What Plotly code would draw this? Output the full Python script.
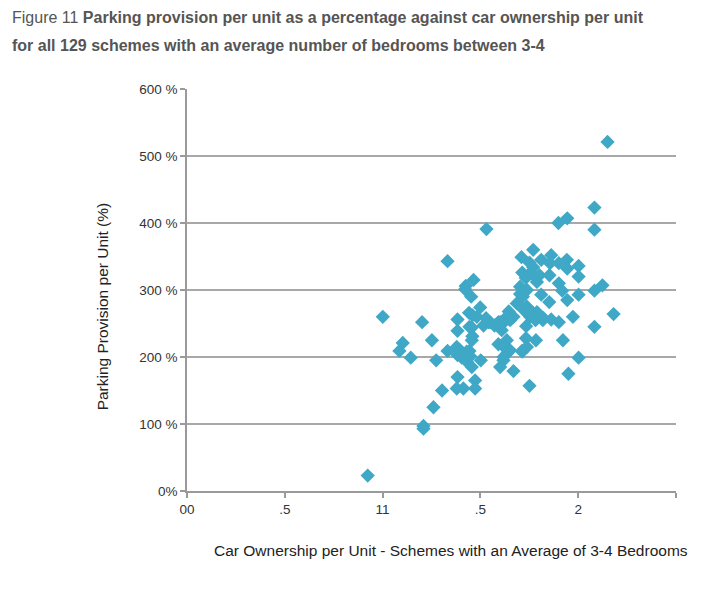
import plotly.graph_objects as go

car_ownership = [
    2.150, 2.083, 2.083, 1.899, 1.944, 1.531, 1.332, 1.770, 1.710, 1.751,
    1.811, 1.862, 1.901, 1.942, 1.944, 2.002, 2.002, 1.714, 1.754, 1.780,
    1.802, 1.789, 1.853, 1.465, 1.425, 1.422, 1.453, 1.703, 1.738, 1.703,
    1.717, 1.686, 1.901, 1.918, 1.811, 1.852, 1.944, 2.002, 2.083, 2.124,
    2.181, 2.083, 2.002, 1.950, 1.973, 1.922, 1.901, 1.862, 1.819, 1.768,
    1.738, 1.754, 1.782, 1.789, 1.734, 1.784, 1.733, 1.738, 1.714, 1.751,
    1.669, 1.669, 1.645, 1.635, 1.610, 1.592, 1.572, 1.541, 1.516, 1.499,
    1.482, 1.442, 1.444, 1.456, 1.383, 1.383, 1.459, 1.456, 1.592, 1.635,
    1.621, 1.652, 1.635, 1.618, 1.601, 1.712, 1.502, 1.444, 1.422, 1.396,
    1.379, 1.383, 1.405, 1.431, 1.456, 1.332, 1.274, 1.252, 1.202, 1.001,
    1.103, 1.086, 1.144, 1.383, 1.473, 1.473, 1.413, 1.379, 1.304, 1.209,
    1.209, 1.260, 0.924, 1.609, 1.549, 1.430, 1.448, 1.618, 1.823, 1.738,
    1.754, 1.722, 1.601, 1.652, 1.529, 1.460, 1.770, 1.732, 1.856,
]
parking_pct = [
    521, 423, 390, 400, 407, 391, 343, 360, 349, 341,
    345, 352, 340, 345, 332, 336, 320, 326, 325, 320,
    322, 312, 322, 315, 306, 301, 290, 305, 300, 294,
    290, 280, 310, 299, 293, 282, 285, 293, 299, 307,
    264, 245, 199, 175, 260, 225, 252, 256, 255, 266,
    275, 260, 255, 267, 246, 225, 228, 215, 208, 157,
    179, 260, 268, 260, 249, 252, 247, 252, 247, 274,
    260, 266, 245, 244, 256, 239, 231, 225, 219, 225,
    215, 210, 205, 195, 185, 209, 195, 209, 203, 210,
    215, 203, 199, 193, 185, 209, 195, 225, 252, 260,
    221, 209, 199, 170, 165, 153, 153, 153, 150, 97,
    93, 125, 23, 240, 252, 208, 201, 200, 258, 272,
    265, 270, 252, 255, 258, 262, 334, 318, 340,
]

x_tickvals = [0, 0.5, 1, 1.5, 2, 2.5]
x_ticktext = ["00", ".5", "11", ".5", "2", ""]
y_tickvals = [0, 100, 200, 300, 400, 500, 600]
y_ticktext = ["0%", "100 %", "200 %", "300 %", "400 %", "500 %", "600 %"]

title_line1 = "Figure 11 <b>Parking provision per unit as a percentage against car ownership per unit</b>"
title_line2 = "<b>for all 129 schemes with an average number of bedrooms between 3-4</b>"
x_title = "Car Ownership per Unit - Schemes with an Average of 3-4 Bedrooms"
y_title = "Parking Provision per Unit (%)"

BASE = "Liberation Sans, Arial, sans-serif"

fig = go.Figure()
fig.add_trace(go.Scatter(
    x=car_ownership, y=parking_pct, mode="markers",
    marker=dict(symbol="diamond", size=11, color="#3ea8c6", line=dict(width=0)),
    showlegend=False, hoverinfo="x+y",
))

fig.update_layout(
    width=720, height=591,
    margin=dict(l=179, r=52, t=81, b=108, autoexpand=False),
    paper_bgcolor="white", plot_bgcolor="white",
    font=dict(family=BASE, color="#333333", size=13),
    xaxis=dict(
        range=[0, 2.5], tickvals=x_tickvals, ticktext=x_ticktext,
        showgrid=False, zeroline=False, showline=True, linecolor="#9a9a9a", linewidth=1.5,
        ticks="outside", ticklen=5, tickcolor="#9a9a9a", tickwidth=1.5,
        tickfont=dict(size=13.5, color="#333333"), automargin=False,
    ),
    yaxis=dict(
        range=[0, 600], tickvals=y_tickvals, ticktext=y_ticktext,
        showgrid=True, gridcolor="#a8a8a8", gridwidth=1.5, zeroline=False,
        showline=True, linecolor="#9a9a9a", linewidth=1.5,
        ticks="outside", ticklen=5, tickcolor="#9a9a9a", tickwidth=1.5,
        tickfont=dict(size=13.5, color="#333333"), automargin=False,
    ),
    annotations=[
        dict(text=title_line1, xref="paper", yref="paper", x=-0.362, y=1.179,
             xanchor="left", yanchor="middle", showarrow=False,
             font=dict(family=BASE, size=16, color="#555555")),
        dict(text=title_line2, xref="paper", yref="paper", x=-0.362, y=1.109,
             xanchor="left", yanchor="middle", showarrow=False,
             font=dict(family=BASE, size=16, color="#555555")),
        dict(text=x_title, xref="paper", yref="paper", x=0.540, y=-0.147,
             xanchor="center", yanchor="middle", showarrow=False,
             font=dict(family=BASE, size=15.5, color="#222222")),
        dict(text=y_title, xref="paper", yref="paper", x=-0.172, y=0.459,
             xanchor="center", yanchor="middle", showarrow=False, textangle=-90,
             font=dict(family=BASE, size=15.5, color="#222222")),
    ],
)

fig.write_html("out.html")
